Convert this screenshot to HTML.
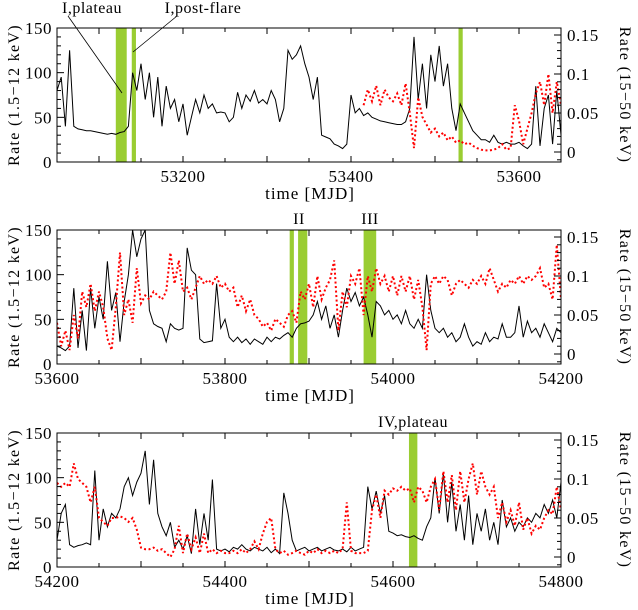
<!DOCTYPE html>
<html><head><meta charset="utf-8"><style>
html,body{margin:0;padding:0;background:#fff}
svg{display:block}
text{font-family:"Liberation Serif","DejaVu Serif",serif;fill:#000}
</style></head><body>
<svg id="chart" width="638" height="610" viewBox="0 0 638 610" xmlns="http://www.w3.org/2000/svg"></svg>
<script>
// ---- data ----
const p1Start = 53050, p2Start = 53600, p3Start = 54200, step = 5;
const p1Soft = [80,95,40,125,40,37,36,35,35,34,33,32,31,32,31,33,34,40,100,80,110,70,100,50,95,40,85,60,70,45,65,30,50,70,55,75,60,65,55,56,55,45,50,78,60,75,68,80,66,70,65,80,70,45,60,125,115,120,130,110,95,70,95,30,28,26,20,18,15,20,75,55,60,52,55,50,48,46,45,44,43,42,42,45,60,140,70,110,60,120,90,130,85,110,60,35,65,55,45,35,30,25,25,22,30,22,20,22,20,20,22,18,15,20,85,18,60,75,20,80,30];
const p1HardStart = 53415;
const p1Hard = [0.06,0.08,0.065,0.085,0.06,0.08,0.07,0.065,0.075,0.06,0.088,0.05,0.005,0.07,0.045,0.035,0.025,0.03,0.02,0.025,0.015,0.02,0.012,0.015,0.01,0.012,0.008,0.005,0.003,0.002,0.002,0.003,0.005,0.01,0.003,0.005,0.06,0.04,0.01,0.03,0.05,0.075,0.09,0.06,0.1,0.05,0.09,0.06];
const p2Soft = [20,18,15,20,85,18,60,15,85,40,75,50,115,60,80,25,70,100,150,120,140,150,60,45,42,40,25,45,40,38,40,130,105,100,28,24,25,26,90,40,50,30,25,30,24,28,22,28,25,22,30,25,30,28,32,35,30,40,45,46,48,55,70,50,65,40,55,30,60,85,70,80,65,75,55,30,70,65,55,60,50,55,45,60,45,40,50,40,100,60,40,35,40,30,35,25,30,45,30,20,25,22,35,25,30,28,45,30,30,35,65,30,48,35,40,30,45,35,25,40,35];
const p2Hard = [0.04,0.01,0.03,0.005,0.05,0.02,0.08,0.06,0.09,0.055,0.08,0.06,0.02,0.005,0.06,0.13,0.05,0.07,0.04,0.11,0.065,0.075,0.07,0.08,0.075,0.07,0.08,0.13,0.09,0.12,0.08,0.085,0.07,0.085,0.1,0.09,0.095,0.09,0.1,0.085,0.09,0.08,0.085,0.06,0.075,0.055,0.07,0.05,0.045,0.035,0.04,0.03,0.045,0.04,0.035,0.05,0.055,0.04,0.08,0.07,0.09,0.06,0.1,0.07,0.085,0.095,0.12,0.03,0.08,0.06,0.1,0.09,0.11,0.05,0.1,0.08,0.11,0.09,0.1,0.08,0.1,0.075,0.1,0.08,0.1,0.07,0.095,0.06,0.005,0.09,0.1,0.09,0.1,0.095,0.075,0.09,0.095,0.09,0.085,0.095,0.09,0.1,0.09,0.11,0.095,0.08,0.09,0.085,0.095,0.09,0.1,0.09,0.1,0.095,0.1,0.11,0.085,0.09,0.07,0.14,0.07];
const p3Soft = [30,60,70,25,22,24,25,27,25,108,30,65,45,60,55,65,90,100,80,95,105,130,70,120,60,45,35,50,22,30,20,35,15,65,25,60,30,98,20,18,20,17,22,20,25,20,18,22,20,18,22,16,20,15,83,60,30,18,20,22,18,20,22,18,20,22,19,18,20,17,22,18,20,22,90,65,85,60,80,40,38,35,36,34,33,35,32,30,45,55,100,60,105,50,95,40,70,30,80,25,60,40,65,30,50,25,75,45,55,40,50,45,55,50,60,55,70,60,75,55,95];
const p3Hard = [0.095,0.09,0.095,0.09,0.12,0.1,0.095,0.09,0.07,0.09,0.05,0.045,0.04,0.05,0.05,0.052,0.05,0.045,0.05,0.035,0.012,0.01,0.01,0.012,0.008,0.01,0.005,0.0,0.01,0.04,0.005,0.03,0.01,0.025,0.005,0.03,0.005,0.01,0.005,0.008,0.005,0.005,0.008,0.005,0.01,0.005,0.01,0.02,0.01,0.03,0.045,0.05,0.01,0.005,0.008,0.003,0.005,0.008,0.005,0.003,0.008,0.005,0.01,0.005,0.008,0.005,0.008,0.005,0.01,0.07,0.008,0.005,0.005,0.005,0.008,0.06,0.08,0.05,0.085,0.08,0.088,0.085,0.09,0.085,0.088,0.07,0.09,0.085,0.07,0.09,0.1,0.06,0.11,0.07,0.105,0.06,0.11,0.07,0.1,0.12,0.08,0.11,0.09,0.08,0.09,0.05,0.07,0.045,0.06,0.04,0.07,0.035,0.05,0.03,0.04,0.035,0.05,0.06,0.055,0.09,0.06];
const p1Bands = [[53120,53133],[53139,53144],[53528,53533]];
const p2Bands = [[53877,53882],[53887,53898],[53965,53980]];
const p3Bands = [[54619,54629]];
const leftTicks = [0,50,100,150];
const rightTicks = [0,0.05,0.1,0.15];

const svg = document.getElementById('chart');
const NS = 'http://www.w3.org/2000/svg';
function mk(tag, attrs, parent){
  const e = document.createElementNS(NS, tag);
  for (const k in attrs) e.setAttribute(k, attrs[k]);
  (parent||svg).appendChild(e);
  return e;
}
const X0 = 57, X1 = 561, H = 134;
const panels = [
  {top:28, start:p1Start, soft:p1Soft, hard:p1Hard, hardStart:p1HardStart, bands:p1Bands, xlab:[53200,53400,53600]},
  {top:230, start:p2Start, soft:p2Soft, hard:p2Hard, hardStart:p2Start, bands:p2Bands, xlab:[53600,53800,54000,54200]},
  {top:433, start:p3Start, soft:p3Soft, hard:p3Hard, hardStart:p3Start, bands:p3Bands, xlab:[54200,54400,54600,54800]}
];
panels.forEach((p, i) => {
  const g = mk('g', {});
  
  
  const bot = p.top + H;
  const xs = t => X0 + (t - p.start) / 600 * (X1 - X0);
  const yl = v => bot - v / 150 * H;
  const yr = v => 152 - 28 + p.top - v / 0.15 * 117;
  p.bands.forEach((b, j) => {
    const r = mk('rect', {x: xs(b[0]), y: p.top, width: xs(b[1]) - xs(b[0]), height: H, fill: '#9acd32'}, g);
    
    
  });
  const clipId = 'clip' + i;
  const cp = mk('clipPath', {id: clipId}, g);
  mk('rect', {x: X0, y: p.top, width: X1 - X0, height: H}, cp);
  let d = '';
  p.soft.forEach((v, k) => { d += (k ? 'L' : 'M') + xs(p.start + k*step).toFixed(1) + ',' + yl(v).toFixed(1); });
  const ls = mk('path', {d, fill: 'none', stroke: '#000', 'stroke-width': 1, 'clip-path': 'url(#' + clipId + ')'}, g);
  
  
  d = '';
  p.hard.forEach((v, k) => { d += (k ? 'L' : 'M') + xs(p.hardStart + k*step).toFixed(1) + ',' + yr(v).toFixed(1); });
  const lh = mk('path', {d, fill: 'none', stroke: '#f00', 'stroke-width': 2, 'stroke-dasharray': '2 2.5', 'clip-path': 'url(#' + clipId + ')'}, g);
  
  
  const fr = mk('rect', {x: X0, y: p.top, width: X1 - X0, height: H, fill: 'none', stroke: '#000', 'stroke-width': 1}, g);
  
  
  for (let v = 0; v <= 150; v += 10) {
    const len = v % 50 === 0 ? 7 : 4;
    mk('line', {x1: X0, x2: X0 + len, y1: yl(v), y2: yl(v), stroke: '#000'}, g);
  }
  leftTicks.forEach(v => {
    const t = mk('text', {x: X0 - 5, y: yl(v) + 6, 'text-anchor': 'end', 'font-size': 17, 'letter-spacing': 0.5}, g);
    t.textContent = v;
    
    
  });
  for (let k = -1; k <= 15; k++) {
    const v = k / 100; const len = k % 5 === 0 ? 7 : 4;
    mk('line', {x1: X1, x2: X1 - len, y1: yr(v), y2: yr(v), stroke: '#000'}, g);
  }
  rightTicks.forEach(v => {
    const t = mk('text', {x: X1 + 6, y: yr(v) + 6, 'font-size': 17, 'letter-spacing': 0.5}, g);
    t.textContent = v;
    
    
  });
  for (let t = p.start; t <= p.start + 600; t += 50) {
    const len = (t % 100 === 0) ? 6 : 4;
    mk('line', {x1: xs(t), x2: xs(t), y1: bot, y2: bot - len, stroke: '#000'}, g);
    mk('line', {x1: xs(t), x2: xs(t), y1: p.top, y2: p.top + len, stroke: '#000'}, g);
  }
  p.xlab.forEach(v => {
    const t = mk('text', {x: xs(v), y: bot + 20, 'text-anchor': 'middle', 'font-size': 17, 'letter-spacing': 0.5}, g);
    t.textContent = v;
    
    
  });
  const xt = mk('text', {x: 310, y: bot + 37, 'text-anchor': 'middle', 'font-size': 17, 'letter-spacing': 1}, g);
  xt.textContent = 'time [MJD]';
  
  
  const ylt = mk('text', {x: 0, y: 0, 'text-anchor': 'middle', 'font-size': 16, 'letter-spacing': 1.3, transform: 'translate(19,' + (p.top + H/2) + ') rotate(-90)'}, g);
  ylt.textContent = 'Rate (1.5\u221212 keV)';
  
  
  const yrt = mk('text', {x: 0, y: 0, 'text-anchor': 'middle', 'font-size': 16, 'letter-spacing': 1.3, transform: 'translate(620,' + (p.top + H/2) + ') rotate(90)'}, g);
  yrt.textContent = 'Rate (15\u221250 keV)';
  
  
});
function label(txt, x, y, name){
  const t = mk('text', {x, y, 'text-anchor': 'middle', 'font-size': 16, 'letter-spacing': 0.5});
  t.textContent = txt;
  
  
}
label('I,plateau', 92, 13, 'plateau-label');
label('I,post-flare', 203, 13, 'post-flare-label');
mk('line', {x1: 68, y1: 16, x2: 122, y2: 93, stroke: '#000', 'stroke-width': 0.8});
mk('line', {x1: 177, y1: 16, x2: 133, y2: 52, stroke: '#000', 'stroke-width': 0.8});
label('II', 299, 224, 'band-ii-label');
label('III', 370, 224, 'band-iii-label');
label('IV,plateau', 413, 427, 'iv-plateau-label');
</script>
</body></html>
